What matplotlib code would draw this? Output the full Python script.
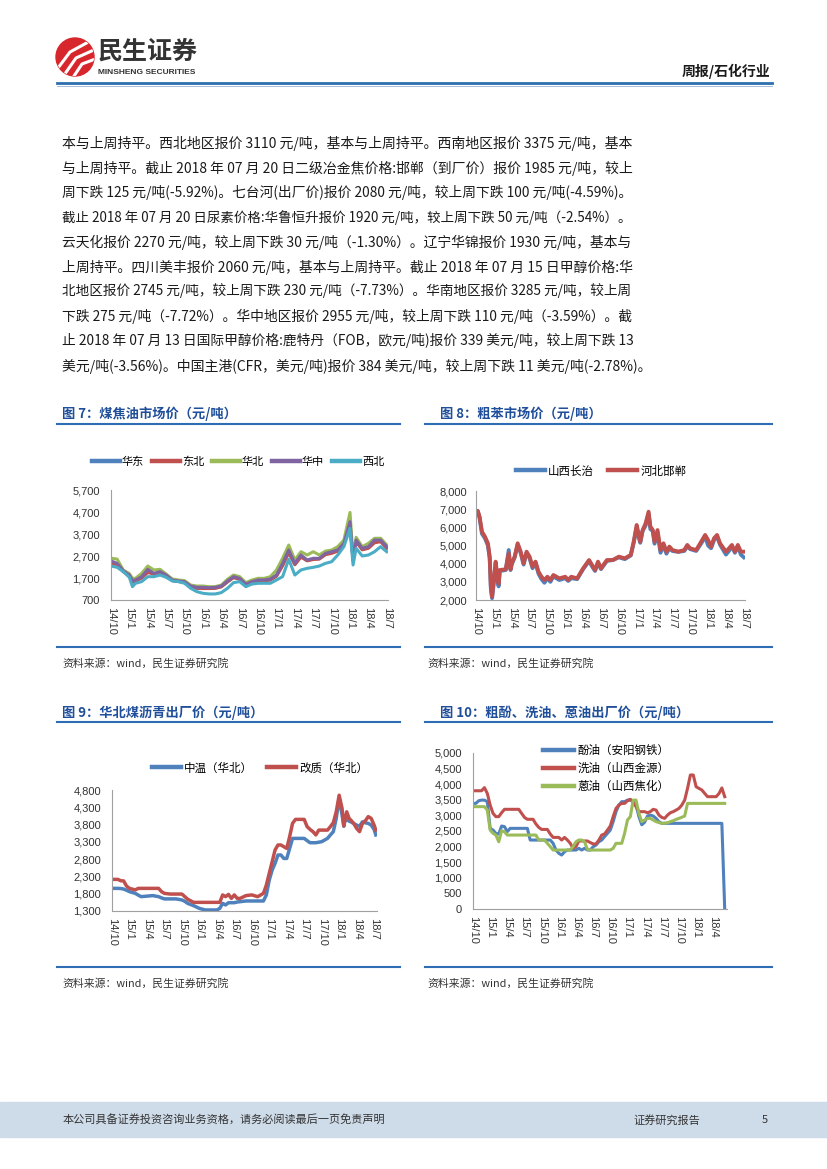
import matplotlib
matplotlib.use("Agg")
import matplotlib.pyplot as plt
from matplotlib.patches import Circle, Rectangle

plt.rcParams['font.family'] = ['Noto Sans CJK SC', 'DejaVu Sans']

# ---------------- data ----------------
month_labels = ["14/10", "15/1", "15/4", "15/7", "15/10", "16/1", "16/4", "16/7",
                "16/10", "17/1", "17/4", "17/7", "17/10", "18/1", "18/4", "18/7"]

# Fig 7 coal tar (months since 2014/10)
x7 = [0, 1, 2, 3, 3.5, 4, 5, 6, 7, 8,
      9, 10, 11, 12, 13, 14, 15, 16, 17, 18,
      19, 20, 21, 22, 23, 24, 25, 26, 27, 28,
      29, 30, 31, 32, 33, 34, 35, 36, 37, 38,
      39, 39.5, 40, 41, 42, 43, 44, 45]
huadong = [2420, 2330, 2000, 1810, 1520, 1580, 1720, 2000, 1890, 1970,
           1810, 1590, 1550, 1510, 1310, 1250, 1240, 1230, 1240, 1310,
           1530, 1730, 1650, 1410, 1510, 1580, 1580, 1620, 1800, 2300,
           2900, 2330, 2700, 2500, 2560, 2580, 2790, 2850, 2950, 3230,
           4150, 2500, 3380, 3000, 3080, 3350, 3380, 3080]
dongbei = [2380, 2300, 1990, 1800, 1500, 1560, 1700, 1950, 1880, 1960,
           1800, 1580, 1540, 1500, 1300, 1230, 1220, 1220, 1230, 1300,
           1520, 1720, 1640, 1400, 1500, 1570, 1570, 1610, 1780, 2250,
           2850, 2300, 2650, 2480, 2540, 2560, 2760, 2820, 2920, 3200,
           4100, 2480, 3350, 2980, 3050, 3300, 3350, 3050]
huabei = [2600, 2560, 2060, 1900, 1685, 1685, 1910, 2245, 2065, 2095,
          1880, 1655, 1610, 1580, 1380, 1335, 1335, 1305, 1305, 1380,
          1640, 1835, 1760, 1490, 1610, 1685, 1685, 1760, 2065, 2595,
          3200, 2520, 2895, 2745, 2895, 2745, 2925, 2970, 3125, 3425,
          4680, 2670, 3550, 3125, 3275, 3505, 3505, 3200]
huazhong = [2475, 2365, 2035, 1835, 1580, 1610, 1760, 2095, 1910, 1990,
            1835, 1610, 1565, 1535, 1335, 1275, 1275, 1260, 1275, 1335,
            1565, 1760, 1685, 1425, 1535, 1610, 1610, 1655, 1835, 2365,
            2975, 2365, 2745, 2520, 2595, 2595, 2820, 2895, 2975, 3275,
            4260, 2520, 3425, 3050, 3125, 3425, 3425, 3125]
xibei = [2245, 2185, 1990, 1730, 1305, 1460, 1535, 1760, 1760, 1835,
         1730, 1565, 1535, 1460, 1230, 1080, 1005, 975, 975, 1035,
         1230, 1490, 1535, 1305, 1425, 1460, 1460, 1460, 1610, 1760,
         2550, 1835, 2065, 2140, 2185, 2245, 2365, 2440, 2745, 3125,
         3955, 2290, 3050, 2700, 2745, 2895, 3125, 2895]

# Fig 8 crude benzene
x8 = [0, 0.3, 0.6, 1, 1.5, 2, 2.3, 2.5, 2.7, 3,
      3.3, 3.6, 3.8, 4, 5, 5.5, 5.8, 6, 6.5, 7,
      7.5, 8, 8.5, 9, 9.5, 10, 10.5, 11, 11.5, 12,
      12.5, 13, 14, 15, 15.5, 16, 17, 18, 19, 19.5,
      20, 20.5, 21, 22, 23, 24, 25, 26, 26.5, 27,
      27.3, 27.6, 28, 28.5, 29, 29.3, 29.7, 30, 30.5, 31,
      31.5, 32, 32.5, 33, 34, 35, 35.5, 36, 37, 38,
      38.5, 39, 39.5, 40, 40.5, 41, 42, 42.5, 43, 43.5,
      44, 44.5, 45]
changzhi = [6900, 6880, 6500, 5650, 5400, 5000, 4300, 2600, 2100, 3000,
            4000, 3100, 2750, 3600, 3650, 4750, 3650, 3950, 4350, 5050,
            4600, 3950, 4600, 4300, 3750, 4050, 3450, 3150, 2950, 3200,
            3000, 3300, 3100, 3200, 3050, 3200, 3150, 3700, 4150, 3850,
            3600, 4050, 3700, 4150, 4200, 4350, 4250, 4450, 5150, 6000,
            5500, 5150, 5800, 6100, 6750, 5900, 5800, 5100, 5700, 4600,
            5000, 4550, 4850, 4700, 4650, 4700, 4950, 4800, 4700, 5200,
            5500, 5000, 4850, 5300, 5500, 5050, 4500, 4700, 4950, 4600,
            4950, 4500, 4350]
handan = [6920, 6900, 6590, 5760, 5490, 5120, 4385, 2730, 2180, 3100,
          4110, 3280, 2900, 3650, 3690, 4570, 3690, 4020, 4385, 5120,
          4660, 4020, 4660, 4385, 3835, 4110, 3560, 3280, 3100, 3280,
          3100, 3375, 3190, 3280, 3100, 3280, 3190, 3740, 4200, 3925,
          3650, 4110, 3740, 4200, 4200, 4385, 4295, 4480, 5210, 6130,
          5670, 5210, 5850, 6220, 6860, 6040, 5850, 5210, 5850, 4750,
          5120, 4660, 4940, 4750, 4660, 4750, 5030, 4840, 4750, 5300,
          5580, 5300, 4940, 5400, 5580, 5120, 4660, 4840, 5030, 4660,
          5030, 4660, 4660]

# Fig 9 coal pitch, North China
x9 = [0, 1, 1.5, 2, 2.5, 3, 4, 4.5, 5, 7,
      8, 8.5, 9, 10, 11, 12, 12.5, 13, 14, 15,
      16, 17, 18, 18.5, 19, 19.5, 20, 20.5, 21, 21.5,
      22, 23, 24, 25, 26, 26.5, 27, 27.5, 28, 28.5,
      29, 29.5, 30, 30.5, 31, 31.5, 32, 33, 33.5, 34,
      34.5, 35, 35.5, 36, 37, 37.5, 38, 38.5, 39, 39.5,
      39.8, 40, 40.3, 40.7, 41, 41.5, 42, 42.5, 43, 43.5,
      44, 44.5, 45, 45.3]
zhongwen = [1955, 1955, 1950, 1935, 1900, 1860, 1810, 1760, 1715, 1745,
            1715, 1680, 1650, 1650, 1650, 1620, 1580, 1520, 1455, 1375,
            1330, 1330, 1330, 1375, 1520, 1475, 1540, 1540, 1540, 1560,
            1570, 1590, 1590, 1590, 1590, 1765, 2195, 2485, 2680, 2920,
            2920, 2820, 2820, 3110, 3400, 3400, 3400, 3400, 3335, 3275,
            3275, 3275, 3290, 3305, 3400, 3500, 3595, 3980, 4560, 4080,
            3750, 3930, 3950, 3900, 3880, 3830, 3785, 3750, 3880, 3850,
            3835, 3785, 3660, 3500]
gaizhi = [2215, 2215, 2175, 2170, 2020, 1955, 1910, 1955, 1955, 1955,
          1955, 1860, 1810, 1790, 1790, 1790, 1715, 1640, 1550, 1550,
          1550, 1550, 1550, 1550, 1765, 1715, 1780, 1665, 1765, 1665,
          1665, 1745, 1765, 1715, 1810, 2050, 2390, 2725, 3065, 3210,
          3210, 3160, 3110, 3450, 3835, 3950, 3950, 3950, 3740, 3660,
          3595, 3500, 3640, 3640, 3640, 3740, 3855, 4170, 4650, 4270,
          3760, 3930, 4170, 3980, 3930, 3835, 3690, 3595, 3835, 3910,
          4030, 3980, 3785, 3640]

# Fig 10 crude phenol / wash oil / anthracene oil (half-month steps)
x10 = [i / 2 for i in range(89)]
fenyou = [3385, 3385, 3470, 3490, 3490, 3440, 2585, 2530, 2425, 2400,
          2660, 2640, 2480, 2585, 2585, 2585, 2585, 2585, 2585, 2585,
          2210, 2210, 2210, 2210, 2210, 2210, 2210, 2210, 2105, 1890,
          1785, 1730, 1835, 1890, 1890, 1890, 1890, 1945, 1890, 1945,
          1890, 1890, 1995, 2050, 2155, 2210, 2320, 2425, 2530, 2800,
          3120, 3330, 3440, 3440, 3490, 3490, 3440, 3330, 2960, 2700,
          2780, 2980, 3010, 2980, 2905, 2800, 2745, 2745, 2745, 2745,
          2745, 2745, 2745, 2745, 2745, 2745, 2745, 2745, 2745, 2745,
          2745, 2745, 2745, 2745, 2745, 2745, 2745, 2745, 0]
xiyou = [3790, 3790, 3790, 3790, 3890, 3705, 3330, 3065, 2960, 2960,
         3085, 3195, 3195, 3195, 3195, 3195, 3195, 3065, 2935, 2875,
         2875, 2875, 2725, 2615, 2550, 2550, 2550, 2405, 2295, 2295,
         2295, 2210, 2295, 2210, 2105, 1945, 2000, 2180, 2180, 2180,
         2180, 2130, 2085, 2085, 2210, 2370, 2405, 2530, 2660, 2960,
         3225, 3330, 3385, 3385, 3470, 3515, 3440, 3280, 3120, 3120,
         3120, 3085, 3120, 3195, 3170, 3010, 2935, 2905, 3010, 3085,
         3120, 3170, 3225, 3330, 3490, 3865, 4295, 4295, 3920, 3865,
         3815, 3705, 3600, 3600, 3600, 3600, 3700, 3880, 3600]
enyou = [3280, 3280, 3280, 3280, 3280, 3170, 2530, 2425, 2370, 2155,
         2510, 2475, 2370, 2370, 2370, 2370, 2370, 2370, 2370, 2370,
         2370, 2370, 2370, 2210, 2210, 2210, 2105, 2000, 1890, 1890,
         1890, 1890, 1890, 1890, 1890, 2000, 2155, 2210, 2210, 2155,
         1910, 1890, 1890, 1890, 1890, 1890, 1890, 1890, 1890, 1945,
         2105, 2105, 2105, 2425, 2850, 2960, 3490, 3490, 3065, 2800,
         2850, 2905, 2905, 2850, 2800, 2770, 2745, 2750, 2765, 2800,
         2830, 2870, 2905, 2940, 2980, 3385, 3385, 3385, 3385, 3385,
         3385, 3385, 3385, 3385, 3385, 3385, 3385, 3385, 3385]

body_lines = [
    "本与上周持平。西北地区报价 3110 元/吨，基本与上周持平。西南地区报价 3375 元/吨，基本",
    "与上周持平。截止 2018 年 07 月 20 日二级冶金焦价格:邯郸（到厂价）报价 1985 元/吨，较上",
    "周下跌 125 元/吨(-5.92%)。七台河(出厂价)报价 2080 元/吨，较上周下跌 100 元/吨(-4.59%)。",
    "截止 2018 年 07 月 20 日尿素价格:华鲁恒升报价 1920 元/吨，较上周下跌 50 元/吨（-2.54%）。",
    "云天化报价 2270 元/吨，较上周下跌 30 元/吨（-1.30%）。辽宁华锦报价 1930 元/吨，基本与",
    "上周持平。四川美丰报价 2060 元/吨，基本与上周持平。截止 2018 年 07 月 15 日甲醇价格:华",
    "北地区报价 2745 元/吨，较上周下跌 230 元/吨（-7.73%）。华南地区报价 3285 元/吨，较上周",
    "下跌 275 元/吨（-7.72%）。华中地区报价 2955 元/吨，较上周下跌 110 元/吨（-3.59%）。截",
    "止 2018 年 07 月 13 日国际甲醇价格:鹿特丹（FOB，欧元/吨)报价 339 美元/吨，较上周下跌 13",
    "美元/吨(-3.56%)。中国主港(CFR，美元/吨)报价 384 美元/吨，较上周下跌 11 美元/吨(-2.78%)。",
]

# ---------------- page ----------------
W, H = 827, 1169
BLUE_RULE = '#2E6DB4'
TITLE_C = '#1F4E9A'
C_BLUE, C_RED, C_GREEN, C_PURPLE, C_CYAN = '#4F81BD', '#C0504D', '#9BBB59', '#8064A2', '#4BACC6'

fig = plt.figure(figsize=(8.27, 11.69), dpi=100)
fig.patch.set_facecolor('white')
bg = fig.add_axes([0, 0, 1, 1])
bg.set_xlim(0, W)
bg.set_ylim(H, 0)
bg.axis('off')


def fx(x):
    return x / W


def fy(y):
    return 1 - y / H


# header logo
disc = Circle((75, 57), 19, color='#D7262C', zorder=2)
bg.add_patch(disc)
for pts in ([(55, 72), (70, 52), (92, 40)], [(62, 78), (76, 58), (96, 49)], [(70, 82), (82, 64), (98, 58)]):
    ln, = bg.plot([p[0] for p in pts], [p[1] for p in pts], color='white', lw=2.2,
                  solid_capstyle='round', zorder=3)
    ln.set_clip_path(disc)
bg.text(98, 52, "民生证券", fontsize=18, fontweight='bold', color='#333333', va='center', ha='left')
bg.text(98, 72, "MINSHENG SECURITIES", fontsize=6, fontweight='bold', color='#333333',
        va='center', ha='left', family='Liberation Sans')
bg.text(770, 71, "周报/石化行业", fontsize=10, fontweight='bold', color='#1a1a1a', va='center', ha='right')
bg.plot([57, 772], [83, 83], color='#2D6FAE', lw=2.0)
bg.plot([57, 772], [85.5, 85.5], color='#A9C0DA', lw=0.7)

# body paragraph (lines stretched to the text block width)
renderer = fig.canvas.get_renderer()
body_y = [143, 168, 193, 218, 242, 267, 291, 316, 341, 366]
for i, (line, y) in enumerate(zip(body_lines, body_y)):
    t = bg.text(62, y, line, fontsize=10, color='#1a1a1a', va='center', ha='left')
    if i < len(body_lines) - 1:
        w = t.get_window_extent(renderer).width
        t.set_fontsize(10 * 570 / w)

# section titles and rules
titles = [(62, 414, "图 7：煤焦油市场价（元/吨）"), (440, 414, "图 8：粗苯市场价（元/吨）"),
          (62, 713, "图 9：华北煤沥青出厂价（元/吨）"), (440, 713, "图 10：粗酚、洗油、蒽油出厂价（元/吨）")]
for x, y, s in titles:
    bg.text(x, y, s, fontsize=9.5, fontweight='bold', color=TITLE_C, va='center', ha='left')
for y in (424, 647, 722, 967):
    bg.plot([57, 400], [y, y], color=BLUE_RULE, lw=1.5)
    bg.plot([425, 772], [y, y], color=BLUE_RULE, lw=1.5)
for x, y in ((62, 663), (427, 663), (62, 983), (427, 983)):
    bg.text(x, y, "资料来源：wind，民生证券研究院", fontsize=7.8, color='#333333', va='center', ha='left')

# footer band
bg.add_patch(Rectangle((0, 1102), W, 35, color='#CEDBE8', zorder=1))
bg.text(63, 1120, "本公司具备证券投资咨询业务资格，请务必阅读最后一页免责声明", fontsize=8,
        color='#333333', va='center', ha='left', zorder=2)
bg.text(633, 1120, "证券研究报告", fontsize=8, color='#333333', va='center', ha='left', zorder=2)
bg.text(762, 1120, "5", fontsize=8, color='#333333', va='center', ha='left', zorder=2)


# ---------------- charts ----------------
def make_chart(left, right, top, bottom, xmax, ymin, ymax, ystep, labels, ypad):
    ax = fig.add_axes([fx(left), fy(bottom), (right - left) / W, (bottom - top) / H])
    ax.patch.set_alpha(0)
    ax.set_xlim(0, xmax)
    ax.set_ylim(ymin, ymax)
    yt = list(range(ymin, ymax + 1, ystep))
    ax.set_yticks(yt, labels=[f"{v:,}" for v in yt], fontsize=8, family='Liberation Sans', color='#333333')
    ax.set_xticks([3 * i for i in range(len(labels))], labels=labels, rotation=-90, fontsize=8,
                  family='Liberation Sans', color='#333333', ha='center', va='top')
    for s in ('top', 'right'):
        ax.spines[s].set_visible(False)
    for s in ('left', 'bottom'):
        ax.spines[s].set_color('#A0A0A0')
        ax.spines[s].set_linewidth(0.8)
    ax.tick_params(axis='both', length=0)
    ax.tick_params(axis='y', pad=ypad)
    ax.tick_params(axis='x', pad=5)
    return ax


def add_legend(ax, cx, cy, ncol, **kw):
    opts = dict(loc='center', bbox_to_anchor=(fx(cx), fy(cy)), bbox_transform=fig.transFigure,
                ncol=ncol, frameon=False, fontsize=8, handlelength=2.5, handletextpad=0.3,
                columnspacing=0.8, borderpad=0, borderaxespad=0)
    opts.update(kw)
    leg = ax.legend(**opts)
    for h in leg.get_lines():
        h.set_linewidth(3.2)
    return leg


# Fig 7
ax7 = make_chart(111, 388, 490, 600, 45.2, 700, 5700, 1000, month_labels, 8)
for y, c, n in ((huadong, C_BLUE, '华东'), (dongbei, C_RED, '东北'), (huabei, C_GREEN, '华北'),
                (huazhong, C_PURPLE, '华中'), (xibei, C_CYAN, '西北')):
    ax7.plot(x7, y, color=c, lw=2.2, label=n)
add_legend(ax7, 238, 462, 5, columnspacing=0.7, handletextpad=0.2)

# Fig 8
ax8 = make_chart(476, 745, 491, 600, 45.2, 2000, 8000, 1000, month_labels, 6.5)
ax8.plot(x8, changzhi, color=C_BLUE, lw=2.8, label='山西长治')
ax8.plot(x8, handan, color=C_RED, lw=2.8, label='河北邯郸')
add_legend(ax8, 601, 471, 2, columnspacing=1.2, fontsize=8.3)

# Fig 9
ax9 = make_chart(112, 377, 790, 911, 45.5, 1300, 4800, 500, month_labels, 8)
ax9.plot(x9, zhongwen, color=C_BLUE, lw=2.5, label='中温（华北）')
ax9.plot(x9, gaizhi, color=C_RED, lw=2.5, label='改质（华北）')
add_legend(ax9, 260, 768, 2, columnspacing=1.2, fontsize=8.3)

# Fig 10
ax10 = make_chart(473, 727, 753, 909, 44.4, 0, 5000, 500, month_labels[:15], 8)
ax10.plot(x10, fenyou, color=C_BLUE, lw=2.2, label='酚油（安阳钢铁）')
ax10.plot(x10, xiyou, color=C_RED, lw=2.2, label='洗油（山西金源）')
ax10.plot(x10, enyou, color=C_GREEN, lw=2.2, label='蒽油（山西焦化）')
add_legend(ax10, 543, 744, 1, loc='upper left', labelspacing=0.45, handlelength=2.7, fontsize=8.3)

fig.savefig('out.png', dpi=100, facecolor='white')
